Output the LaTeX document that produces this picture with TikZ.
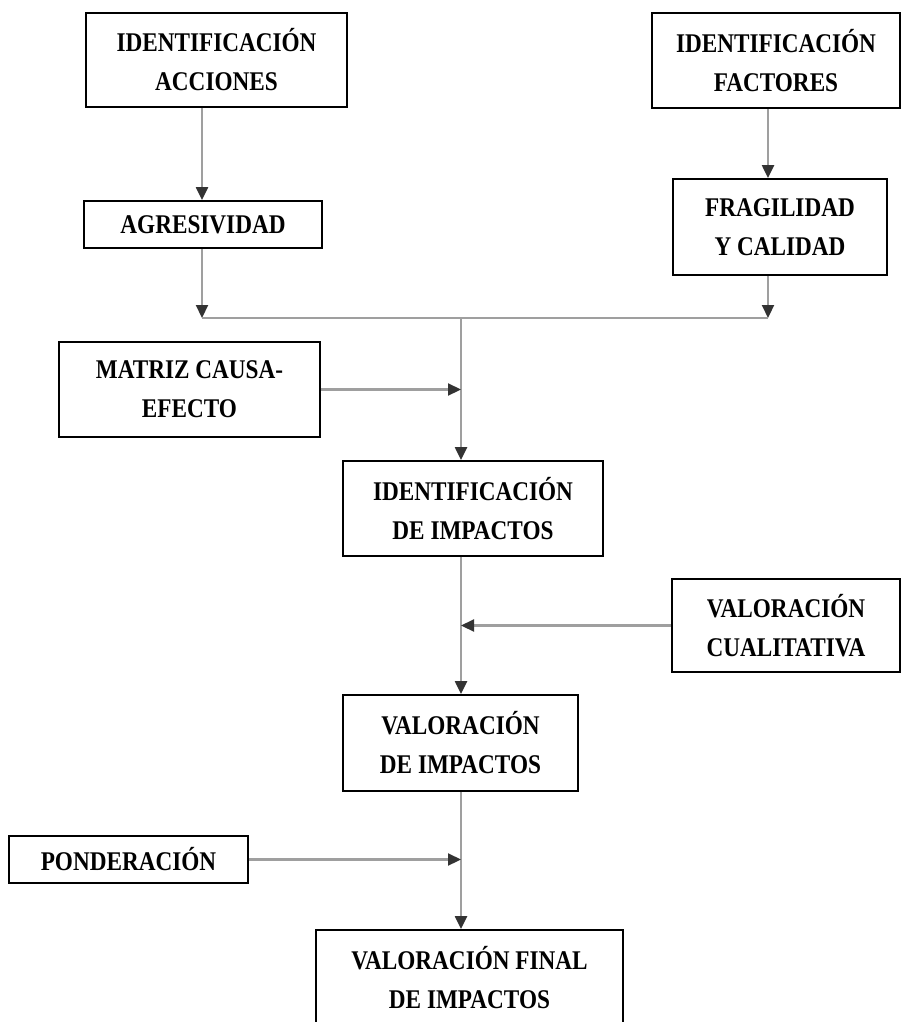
\documentclass[tikz,border=0pt]{standalone}
\usepackage{fontspec}
\setmainfont[FakeStretch=0.86]{Liberation Serif}
\usepackage{tikz}
\usetikzlibrary{arrows.meta,shapes}
\newcommand{\borde}{1.8pt}
\newcommand{\trazo}{2.2pt}

\begin{document}
\begin{tikzpicture}[x=1pt,y=-1pt]
    \tikzset{caja/.style = {draw=black, line width=\borde, align=center, inner sep=0pt,
                font=\fontsize{27}{39}\selectfont\bfseries},
             flecha/.style = {draw=gray!75, line width=\trazo,
                -{Triangle[width=12pt,length=13pt,color=black!80]}},
             linea/.style = {draw=gray!75, line width=\trazo}}
    \useasboundingbox (0,0) rectangle (901,1022);
    \clip (0,0) rectangle (901,1022);
    % cajas
    \node[caja, minimum width=261pt, minimum height=94pt] (idacc) at (216.5,60) {IDENTIFICACIÓN\\ACCIONES};
    \node[caja, minimum width=238pt, minimum height=47pt] (agres) at (203,224.5) {AGRESIVIDAD};
    \node[caja, minimum width=248pt, minimum height=95pt] (idfac) at (776,60.5) {IDENTIFICACIÓN\\FACTORES};
    \node[caja, minimum width=214pt, minimum height=96pt] (fragil) at (780,227) {FRAGILIDAD\\Y CALIDAD};
    \node[caja, minimum width=261pt, minimum height=95pt] (matriz) at (189.5,389.5) {MATRIZ CAUSA-\\EFECTO};
    \node[caja, minimum width=260pt, minimum height=95pt] (idimp) at (473,508.5) {IDENTIFICACIÓN\\DE IMPACTOS};
    \node[caja, minimum width=228pt, minimum height=93pt] (valcual) at (786,625.5) {VALORACIÓN\\CUALITATIVA};
    \node[caja, minimum width=235pt, minimum height=96pt] (valimp) at (460.5,743) {VALORACIÓN\\DE IMPACTOS};
    \node[caja, minimum width=239pt, minimum height=47pt] (ponder) at (128.5,859.5) {PONDERACIÓN};
    \node[caja, minimum width=307pt, minimum height=95pt] (final) at (469.5,977.5) {VALORACIÓN FINAL\\DE IMPACTOS};
    % puntos de union
    \coordinate (ja) at (202,318);
    \coordinate (jf) at (768,318);
    \coordinate (jm) at (461,318);
    \coordinate (pm) at (461,389.5);
    \coordinate (pc) at (461,625.5);
    \coordinate (pp) at (461,859.5);
    % conectores
    \draw[flecha] (idacc.south -| ja) -- (agres.north -| ja);
    \draw[flecha] (idfac.south -| jf) -- (fragil.north -| jf);
    \draw[flecha] (agres.south -| ja) -- (ja);
    \draw[flecha] (fragil.south -| jf) -- (jf);
    \draw[linea] (ja) -- (jf);
    \draw[flecha] (jm) -- (jm |- idimp.north);
    \draw[flecha] (matriz) -- (pm);
    \draw[flecha] (jm |- idimp.south) -- (jm |- valimp.north);
    \draw[flecha] (valcual) -- (pc);
    \draw[flecha] (jm |- valimp.south) -- (jm |- final.north);
    \draw[flecha] (ponder) -- (pp);
\end{tikzpicture}
\end{document}
